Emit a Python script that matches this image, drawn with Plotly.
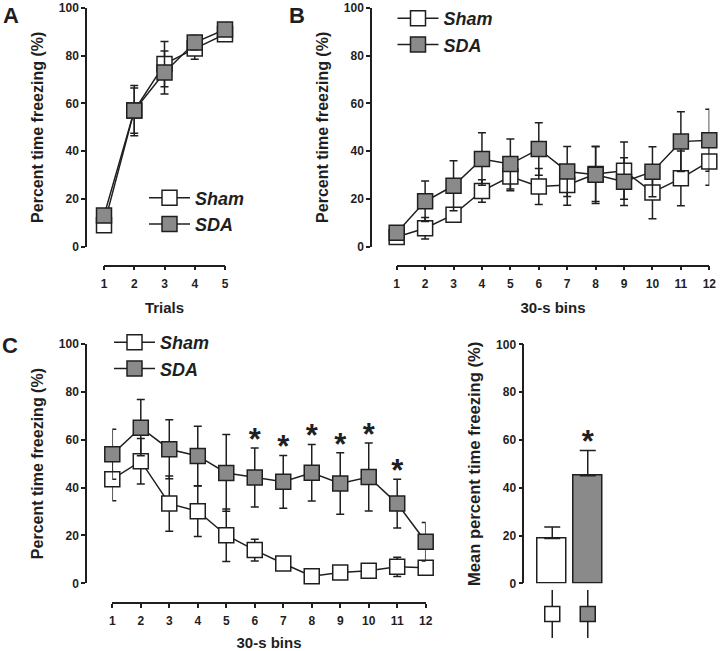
import plotly.graph_objects as go

W, H = 720, 651

# ---- values ----
trials = [1, 2, 3, 4, 5]
a_sham = [9, 57, 76.5, 83, 89]
a_sham_err = [1, 9.5, 9.5, 4.5, 1]
a_sda = [13, 57, 73, 85.5, 91]
a_sda_err = [1, 10.5, 9, 3, 1]

bins = list(range(1, 13))
b_sham = [4, 7.7, 13.4, 23.3, 29.4, 25.2, 25.8, 30.4, 31.8, 22.7, 28.6, 35.7]
b_sham_err = [1, 4.5, 2, 4.7, 6, 7.5, 8.5, 11.5, 12, 11, 11.5, 10]
b_sda = [5.8, 19, 25.5, 36.7, 34.6, 40.9, 31.5, 30.1, 27.2, 31.4, 44, 44.6]
b_sda_err = [1.5, 8.5, 10.5, 11, 10.5, 11, 10.5, 12, 10, 10.5, 12.5, 13]

c_sham = [43.5, 51, 33.3, 30.1, 20.1, 13.9, 8.3, 3, 4.6, 5.3, 6.9, 6.5]
c_sham_err = [9, 9.5, 11.5, 10.5, 11, 4.5, 1, 0.5, 1, 1, 4, 1]
c_sda = [53.9, 65, 56, 53.2, 46.1, 44.2, 42.4, 46.2, 41.7, 44.4, 33.3, 17.4]
c_sda_err = [10.4, 11.7, 12.3, 12.4, 16, 12.3, 11, 11.8, 12.8, 14.2, 10.2, 8]
c_sig_bins = [6, 7, 8, 9, 10, 11]

d_groups = ["Sham", "SDA"]
d_mean = [18.75, 45.1]
d_err = [4.9, 10.5]
d_sig = ["SDA"]

# ---- style ----
INK = "#1f1f1f"
GREY = "#8a8a8a"
FAMILY = "Liberation Sans, Arial, sans-serif"
TICKFONT = dict(family=FAMILY, size=12, color=INK, weight="bold")
XTITLEFONT = dict(family=FAMILY, size=15, color=INK, weight="bold")
YTITLEFONT = dict(family=FAMILY, size=16, color=INK, weight="bold")
LEGFONT = dict(family=FAMILY, size=18, color=INK, weight="bold", style="italic")
STARFONT = dict(family=FAMILY, size=31, color=INK, weight="bold")


def fx(px):
    return px / W


def fy(py):
    return 1 - py / H


def series(x, y, err, fill, name, xa, ya, legend):
    return go.Scatter(
        x=x, y=y, name=name, mode="lines+markers", xaxis=xa, yaxis=ya,
        legend=legend, cliponaxis=False,
        line=dict(color=INK, width=1.5),
        marker=dict(symbol="square", size=15, color=fill, line=dict(color=INK, width=1.5)),
        error_y=dict(type="data", array=err, color=INK, thickness=1.5, width=4),
    )


def x_axis(left, right, ypix, rng, ticks, title):
    return dict(domain=[fx(left), fx(right)], anchor="free", position=fy(ypix),
                range=rng, tickvals=ticks, ticks="outside", ticklen=4, tickwidth=1.5,
                tickcolor=INK, showline=True, linecolor=INK, linewidth=1.5,
                showgrid=False, zeroline=False, tickfont=TICKFONT, automargin=False,
                ticklabelstandoff=3,
                title=dict(text=title, font=XTITLEFONT, standoff=12))


def y_axis(top, bottom, xpix, title, font=YTITLEFONT):
    return dict(domain=[fy(bottom), fy(top)], anchor="free", position=fx(xpix),
                range=[0, 100], dtick=20, ticks="outside", ticklen=4, tickwidth=1.5,
                tickcolor=INK, showline=True, linecolor=INK, linewidth=1.5,
                showgrid=False, zeroline=False, tickfont=TICKFONT, automargin=False,
                title=dict(text=title, font=font, standoff=10))


fig = go.Figure()

# A
fig.add_trace(series(trials, a_sham, a_sham_err, "white", "Sham", "x", "y", "legend"))
fig.add_trace(series(trials, a_sda, a_sda_err, GREY, "SDA", "x", "y", "legend"))
# B
fig.add_trace(series(bins, b_sham, b_sham_err, "white", "Sham", "x2", "y2", "legend2"))
fig.add_trace(series(bins, b_sda, b_sda_err, GREY, "SDA", "x2", "y2", "legend2"))
# C
fig.add_trace(series(bins, c_sham, c_sham_err, "white", "Sham", "x3", "y3", "legend3"))
fig.add_trace(series(bins, c_sda, c_sda_err, GREY, "SDA", "x3", "y3", "legend3"))
sig_top = [c_sda[b - 1] + c_sda_err[b - 1] for b in c_sig_bins]
fig.add_trace(go.Scatter(
    x=c_sig_bins, y=[v + 2.5 for v in sig_top], mode="text", text=["*"] * len(c_sig_bins),
    textposition="middle center", xaxis="x3", yaxis="y3", showlegend=False, cliponaxis=False,
    textfont=STARFONT))

# D
fig.add_trace(go.Bar(
    x=d_groups, y=d_mean, width=0.82, xaxis="x4", yaxis="y4", showlegend=False,
    marker=dict(color=["white", GREY], line=dict(color=INK, width=1.5)),
    error_y=dict(type="data", array=d_err, arrayminus=[0, 0], symmetric=False,
                 color=INK, thickness=1.5, width=8)))
fig.add_trace(go.Scatter(
    x=d_sig, y=[d_mean[d_groups.index(g)] + d_err[d_groups.index(g)] + 2.5 for g in d_sig],
    mode="text", text=["*"] * len(d_sig), textposition="middle center",
    xaxis="x4", yaxis="y4", showlegend=False, cliponaxis=False, textfont=STARFONT))
# group key glyphs under the bars: a vertical stroke with the group's square on it
for g, fill in zip(d_groups, ["white", GREY]):
    fig.add_trace(go.Scatter(
        x=[g, g], y=[-1, 1], mode="lines", xaxis="x5", yaxis="y5",
        showlegend=False, cliponaxis=False, line=dict(color=INK, width=1.5)))
    fig.add_trace(go.Scatter(
        x=[g], y=[0], mode="markers", xaxis="x5", yaxis="y5",
        showlegend=False, cliponaxis=False,
        marker=dict(symbol="square", size=15, color=fill, line=dict(color=INK, width=1.5))))

legend_common = dict(font=LEGFONT, bgcolor="rgba(0,0,0,0)", xanchor="left", yanchor="top",
                     tracegroupgap=0, itemwidth=41)

fig.update_layout(
    width=W, height=H, margin=dict(l=0, r=0, t=0, b=0),
    paper_bgcolor="white", plot_bgcolor="white", template="none",
    xaxis=x_axis(104, 225, 265, [1, 5], trials, "Trials"),
    yaxis=y_axis(7, 246, 86, "Percent time freezing (%)"),
    xaxis2=x_axis(396.7, 709.3, 265, [1, 12], bins, "30-s bins"),
    yaxis2=y_axis(7, 246, 371, "Percent time freezing (%)"),
    xaxis3=x_axis(112.3, 425.7, 602.7, [1, 12], bins, "30-s bins"),
    yaxis3=y_axis(343.3, 583.3, 86, "Percent time freezing (%)"),
    xaxis4=dict(domain=[fx(534.5), fx(605.5)], range=[-0.5, 1.5], visible=False,
                anchor="y4", categoryorder="array", categoryarray=d_groups),
    yaxis4=y_axis(344, 583.3, 523.3, "Mean percent time freezing (%)",
                  dict(YTITLEFONT, size=16.6)),
    xaxis5=dict(domain=[fx(534.5), fx(605.5)], range=[-0.5, 1.5], visible=False,
                anchor="y5", categoryorder="array", categoryarray=d_groups),
    yaxis5=dict(domain=[fy(638), fy(590)], range=[-1, 1], visible=False, anchor="x5"),
    legend=dict(x=fx(144), y=fy(179.5), **legend_common),
    legend2=dict(x=fx(392.5), y=fy(-1), **legend_common),
    legend3=dict(x=fx(109), y=fy(324), **legend_common),
    bargap=0,
)

for label, px, py in [("A", 11, 15), ("B", 297, 15), ("C", 10, 345)]:
    fig.add_annotation(text=label, x=fx(px), y=fy(py), xref="paper", yref="paper",
                       showarrow=False, xanchor="center", yanchor="middle",
                       font=dict(family=FAMILY, size=22, color=INK, weight="bold"))

# the page body has a default 8px margin; drop it so the figure sits at the window corner
fig.write_html("out.html", config={"displayModeBar": False},
               post_script="document.body.style.margin='0';")
